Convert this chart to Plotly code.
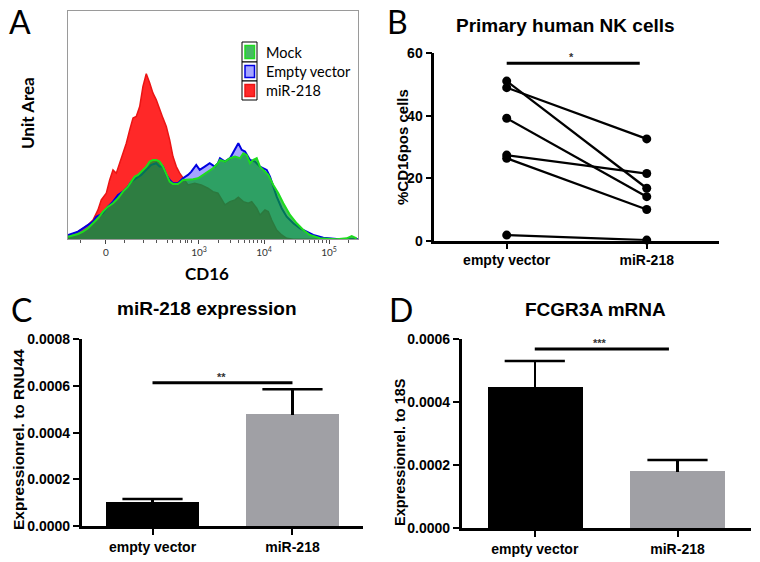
import math
import plotly.graph_objects as go

W, H = 760, 562


def px(x):
    return x / W


def py(y):
    return 1 - y / H


# ---------------- Panel A: CD16 histogram overlay ----------------
hist_names = ["Mock", "Empty vector", "miR-218"]
cd16_tickvals = [1.569, 3, 4, 5]
cd16_ticktext = ["0", "10<sup>3</sup>", "10<sup>4</sup>", "10<sup>5</sup>"]

mir_x = [0.985, 1.138, 1.215, 1.292, 1.369, 1.446, 1.497, 1.574, 1.626, 1.677, 1.728,
         1.780, 1.831, 1.882, 1.934, 1.985, 2.035, 2.088, 2.138, 2.189, 2.242, 2.292,
         2.343, 2.395, 2.446, 2.497, 2.549, 2.600, 2.651, 2.703, 2.754, 2.831, 2.934,
         3.035, 3.138, 3.215, 3.292, 3.323, 3.400, 3.477, 3.554, 3.605, 3.682, 3.758,
         3.811, 3.888, 3.938, 4.015, 4.066, 4.118, 4.195, 4.272, 4.349, 4.451, 5.446]
mir_y = [2.6, 7.6, 11, 14.3, 19.3, 29.3, 39.3, 46, 59.3, 69.3, 66,
         76, 86, 96, 109.3, 121, 122.6, 132.6, 152.6, 165.3, 156, 146,
         139.3, 129.3, 121, 112.6, 99.3, 82.6, 72.6, 66, 61, 54.3, 56,
         54.3, 51, 47.6, 46, 42.6, 34.3, 37.6, 39.3, 42, 37.6, 36,
         37.6, 31, 24.3, 29.3, 27.6, 19.3, 9.3, 4.3, 1, 0, 0]

ev_x = [0.985, 1.138, 1.215, 1.292, 1.369, 1.420, 1.472, 1.523, 1.600, 1.677, 1.754,
        1.831, 1.908, 1.958, 2.035, 2.112, 2.189, 2.266, 2.343, 2.395, 2.446, 2.497,
        2.549, 2.600, 2.677, 2.754, 2.831, 2.882, 2.958, 3.011, 3.088, 3.165, 3.242,
        3.292, 3.323, 3.400, 3.477, 3.554, 3.605, 3.657, 3.708, 3.785, 3.862, 3.938,
        4.042, 4.092, 4.143, 4.195, 4.272, 4.349, 4.451, 4.554, 4.657, 4.758, 4.912,
        5.118, 5.446]
ev_y = [4.3, 7.6, 11, 14.3, 17.6, 22.6, 24.3, 26, 32.6, 37.6, 44.3,
        47.6, 52.6, 57.6, 61, 64.3, 69.3, 74.3, 76, 72.6, 72.6, 64.3,
        59.3, 56, 56, 61, 64.3, 67.6, 74.3, 69.3, 72.6, 76, 72.6,
        76, 81, 77.6, 81, 91, 96, 89.3, 87.6, 79.3, 77.6, 72.6,
        69.3, 62.6, 52.6, 42.6, 31, 22.6, 16, 11, 7.6, 4.3, 1.6,
        0.3, 0]

mock_x = [0.985, 1.138, 1.215, 1.292, 1.369, 1.446, 1.523, 1.600, 1.677, 1.754, 1.831,
          1.908, 1.958, 2.011, 2.062, 2.138, 2.189, 2.242, 2.292, 2.343, 2.395, 2.446,
          2.497, 2.549, 2.600, 2.677, 2.754, 2.831, 2.908, 2.985, 3.062, 3.138, 3.215,
          3.292, 3.323, 3.400, 3.477, 3.554, 3.631, 3.682, 3.734, 3.785, 3.835, 3.888,
          3.938, 3.989, 4.066, 4.143, 4.220, 4.297, 4.400, 4.503, 4.605, 4.708, 4.862,
          5.118, 5.272, 5.349, 5.426]
mock_y = [2.6, 5.3, 7.6, 11, 16, 21, 27.6, 32.6, 36, 41, 47.6,
          52.6, 57.6, 62.6, 64.3, 69.3, 72.6, 77.6, 79.3, 79.3, 77.6, 72.6,
          64.3, 57.6, 55.3, 55.3, 59.3, 59.3, 60, 61, 64.3, 67.6, 71,
          76, 79.3, 77.6, 81, 82.6, 81, 86, 84.3, 76, 79.3, 81,
          72.6, 69.3, 64.3, 54.3, 46, 36, 24.3, 16, 9.3, 4.3, 1,
          0, 1, 3.3, 1]

# ---------------- Panel B: paired primary NK data ----------------
nk_categories = ["empty vector", "miR-218"]
nk_empty = [51.1, 49.0, 39.2, 27.4, 26.4, 1.8]
nk_mir = [16.8, 32.6, 14.1, 21.5, 10.0, 0.2]
nk_ticks = [0, 20, 40, 60]

# ---------------- Panel C: miR-218 expression ----------------
c_categories = ["empty vector", "miR-218"]
c_means = [0.0001015, 0.000477]
c_sem = [0.000014, 0.000109]
c_ticks = [0, 0.0002, 0.0004, 0.0006, 0.0008]
c_ticktext = ["0.0000", "0.0002", "0.0004", "0.0006", "0.0008"]

# ---------------- Panel D: FCGR3A mRNA ----------------
d_categories = ["empty vector", "miR-218"]
d_means = [0.000447, 0.00018]
d_sem = [0.000084, 0.000037]
d_ticks = [0, 0.0002, 0.0004, 0.0006]
d_ticktext = ["0.0000", "0.0002", "0.0004", "0.0006"]

# significance bars: (x0, x1, y, label, label_x)
sig_b = (0.0, 0.95, 56.8, "*", 0.464)
sig_c = (0.0, 1.0, 0.000614, "**", 0.494)
sig_d = (0.0, 0.94, 0.000569, "***", 0.457)

bar_colors = ["#000000", "#A0A0A5"]

ARIAL = "Liberation Sans"
CAL = "Lato"

fig = go.Figure()

# Panel A traces (drawn bottom-to-top: miR-218, Empty vector, Mock)
hist_styles = {
    "miR-218": dict(fill="rgb(255,40,40)", line="rgb(235,20,20)", w=1.5),
    "Empty vector": dict(fill="rgba(40,40,255,0.42)", line="rgb(0,0,225)", w=2),
    "Mock": dict(fill="rgba(0,158,40,0.72)", line="rgb(30,220,30)", w=2),
}
for name, xs, ys in [("miR-218", mir_x, mir_y), ("Empty vector", ev_x, ev_y),
                     ("Mock", mock_x, mock_y)]:
    st = hist_styles[name]
    fig.add_trace(go.Scatter(x=xs, y=ys, name=name, mode="lines", fill="tozeroy",
                             fillcolor=st["fill"], line=dict(color=st["line"], width=st["w"]),
                             xaxis="x", yaxis="y", showlegend=False, hoverinfo="skip"))

# Panel B traces
for a, b in zip(nk_empty, nk_mir):
    fig.add_trace(go.Scatter(x=nk_categories, y=[a, b], mode="lines+markers",
                             line=dict(color="black", width=2.3),
                             marker=dict(color="black", size=9),
                             xaxis="x2", yaxis="y2", showlegend=False, cliponaxis=False))


def add_bars(cats, means, sems, xa, ya):
    fig.add_trace(go.Bar(x=cats, y=means, width=0.665,
                         marker=dict(color=bar_colors, line=dict(width=0)),
                         error_y=dict(type="data", array=sems, arrayminus=[0] * len(sems),
                                      symmetric=False, color="black", thickness=2.5, width=0),
                         xaxis=xa, yaxis=ya, showlegend=False))
    # caps on top of the error bars only
    fig.add_trace(go.Scatter(x=cats, y=[m + s for m, s in zip(means, sems)], mode="markers",
                             marker=dict(symbol="line-ew", size=43,
                                         line=dict(color="black", width=2.5)),
                             xaxis=xa, yaxis=ya, showlegend=False, hoverinfo="skip",
                             cliponaxis=False))


add_bars(c_categories, c_means, c_sem, "x3", "y3")
add_bars(d_categories, d_means, d_sem, "x4", "y4")

minor_a = [1.17, 1.86, 2.14, 2.35, 2.51, 2.60, 2.71, 2.79, 2.83, 2.89]
minor_a += [3 + math.log10(k) for k in range(2, 10)]
minor_a += [4 + math.log10(k) for k in range(2, 10)]
minor_a += [5.30]

tick_font = dict(family=ARIAL, size=14, color="black", weight="bold")

axis_common = dict(showgrid=False, zeroline=False, showline=True, linecolor="black",
                   linewidth=2.6, ticks="outside", tickwidth=2.4, automargin=False,
                   tickcolor="black", tickfont=tick_font)

layout = dict(
    width=W, height=H, margin=dict(l=0, r=0, t=0, b=0, pad=0, autoexpand=False),
    paper_bgcolor="white", plot_bgcolor="white",
    bargap=0,
    xaxis=dict(domain=[px(68), px(358)], range=[0.985, 5.446], anchor="y",
               showgrid=False, zeroline=False, showline=True, mirror=True, automargin=False,
               linecolor="#9a9a9a", linewidth=1, ticks="outside", ticklen=4,
               tickcolor="#444", tickwidth=1, tickvals=cd16_tickvals, ticktext=cd16_ticktext,
               tickfont=dict(family=CAL, size=10, color="#333"),
               minor=dict(tickvals=minor_a, ticks="outside", ticklen=2.5, tickcolor="#555", tickwidth=1)),
    yaxis=dict(domain=[py(239.3), py(11)], range=[0, 228], anchor="x", automargin=False,
               showgrid=False, zeroline=False, showline=True, mirror=True,
               linecolor="#9a9a9a", linewidth=1, ticks="", showticklabels=False),
    xaxis2=dict(domain=[px(434.3), px(719)], type="category", range=[-0.517, 1.516],
                anchor="y2", ticklen=5, **axis_common),
    yaxis2=dict(domain=[py(240.7), py(53.3)], range=[0, 60], anchor="x2", ticklen=6,
                tickvals=nk_ticks, **axis_common),
    xaxis3=dict(domain=[px(81.7), px(363)], type="category", range=[-0.506, 1.504],
                anchor="y3", ticklen=6, **axis_common),
    yaxis3=dict(domain=[py(526), py(339.3)], range=[0, 0.0008], anchor="x3", ticklen=6,
                tickvals=c_ticks, ticktext=c_ticktext, **axis_common),
    xaxis4=dict(domain=[px(461.7), px(751)], type="category", range=[-0.512, 1.515],
                anchor="y4", ticklen=6, **axis_common),
    yaxis4=dict(domain=[py(528.3), py(339.3)], range=[0, 0.0006], anchor="x4", ticklen=6,
                tickvals=d_ticks, ticktext=d_ticktext, **axis_common),
)
fig.update_layout(**layout)

shapes = []
annotations = []

# significance bars
for sig, xr, yr in [(sig_b, "x2", "y2"), (sig_c, "x3", "y3"), (sig_d, "x4", "y4")]:
    x0, x1, yv, lab, lx = sig
    shapes.append(dict(type="line", xref=xr, yref=yr, x0=x0, x1=x1, y0=yv, y1=yv,
                       line=dict(color="black", width=3)))
    annotations.append(dict(xref=xr, yref=yr, x=lx, y=yv, text=lab, showarrow=False,
                            yanchor="bottom", yshift=-2,
                            font=dict(family=ARIAL, size=11, color="#333", weight="bold")))

# custom legend for panel A
leg_rows = [(42, 62), (62, 81), (81, 100)]
for (y0, y1), name in zip(leg_rows, hist_names):
    st = hist_styles[name]
    shapes.append(dict(type="rect", xref="paper", yref="paper", x0=px(242), x1=px(257),
                       y0=py(y1), y1=py(y0), line=dict(color="black", width=1), fillcolor="white"))
    shapes.append(dict(type="rect", xref="paper", yref="paper", x0=px(245), x1=px(254.5),
                       y0=py(y1 - 3.5), y1=py(y0 + 3.5), line=dict(color=st["line"], width=1.5),
                       fillcolor=st["fill"]))
    annotations.append(dict(xref="paper", yref="paper", x=px(264), y=py((y0 + y1) / 2), text=name,
                            showarrow=False, xanchor="left", yanchor="middle",
                            font=dict(family=CAL, size=14.5, color="black")))

# panel letters
for letter, x, y in [("A", 20, 21), ("B", 397, 22), ("C", 21, 309), ("D", 401, 309)]:
    annotations.append(dict(xref="paper", yref="paper", x=px(x), y=py(y), text=letter,
                            showarrow=False, xanchor="center", yanchor="middle",
                            font=dict(family=CAL, size=32, color="black")))

# titles
for text, x, y in [("Primary human NK cells", 565, 25), ("miR-218 expression", 206.7, 308),
                   ("FCGR3A mRNA", 595, 309)]:
    annotations.append(dict(xref="paper", yref="paper", x=px(x), y=py(y), text=text,
                            showarrow=False, xanchor="center", yanchor="middle",
                            font=dict(family=ARIAL, size=19, color="black", weight="bold")))

# axis titles
annotations.append(dict(xref="paper", yref="paper", x=px(28), y=py(113), text="Unit Area",
                        showarrow=False, textangle=-90, xanchor="center", yanchor="middle",
                        font=dict(family=CAL, size=17, color="black", weight="bold")))
annotations.append(dict(xref="paper", yref="paper", x=px(207), y=py(273), text="CD16",
                        showarrow=False, xanchor="center", yanchor="middle",
                        font=dict(family=CAL, size=17, color="black", weight="bold")))
annotations.append(dict(xref="paper", yref="paper", x=px(402), y=py(147), text="%CD16pos cells",
                        showarrow=False, textangle=-90, xanchor="center", yanchor="middle",
                        font=dict(family=ARIAL, size=15, color="black", weight="bold")))
annotations.append(dict(xref="paper", yref="paper", x=px(18), y=py(440), text="Expressionrel. to RNU44",
                        showarrow=False, textangle=-90, xanchor="center", yanchor="middle",
                        font=dict(family=ARIAL, size=15.5, color="black", weight="bold")))
annotations.append(dict(xref="paper", yref="paper", x=px(400), y=py(452), text="Expressionrel. to 18S",
                        showarrow=False, textangle=-90, xanchor="center", yanchor="middle",
                        font=dict(family=ARIAL, size=14.5, color="black", weight="bold")))

fig.update_layout(shapes=shapes, annotations=annotations)
fig.write_html("out.html", config={"displayModeBar": False},
               post_script="document.body.style.margin='0';")
